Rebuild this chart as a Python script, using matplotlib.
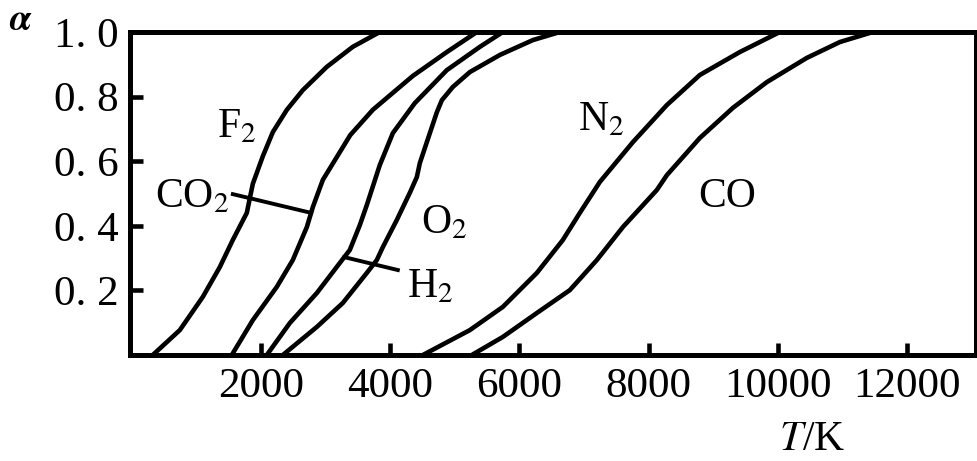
import numpy as np
import matplotlib
matplotlib.use("Agg")
import matplotlib.pyplot as plt

plt.rcParams['font.family'] = ['Liberation Serif', 'DejaVu Serif']
plt.rcParams['mathtext.fontset'] = 'stix'

# ---- data ----
f2_T = [332, 750, 1106, 1368, 1569, 1786, 1879, 2033, 2188, 2405, 2652, 3022, 3424, 3842]
f2_a = [0.0, 0.077, 0.180, 0.272, 0.356, 0.440, 0.530, 0.615, 0.690, 0.759, 0.820, 0.892, 0.954, 1.0]

co2_T = [1554, 1879, 2250, 2497, 2714, 2807, 2961, 3178, 3386, 3734, 4152, 4353, 4879, 5343]
co2_a = [0.0, 0.108, 0.211, 0.294, 0.396, 0.458, 0.542, 0.613, 0.681, 0.759, 0.830, 0.864, 0.938, 1.0]

h2_T = [2095, 2451, 2869, 3224, 3378, 3533, 3641, 3842, 4044, 4384, 4879, 5389, 5745]
h2_a = [0.0, 0.099, 0.192, 0.285, 0.325, 0.402, 0.464, 0.588, 0.687, 0.780, 0.882, 0.954, 1.0]

o2_T = [2343, 2869, 3270, 3641, 3796, 3889, 4105, 4306, 4415, 4461, 4616, 4725, 4802, 4972, 5235, 5699, 6209, 6627]
o2_a = [0.0, 0.087, 0.161, 0.254, 0.294, 0.334, 0.418, 0.502, 0.551, 0.594, 0.687, 0.752, 0.789, 0.830, 0.876, 0.929, 0.975, 1.0]

n2_T = [4508, 5234, 5745, 6270, 6672, 6935, 7245, 7755, 8281, 8791, 9409, 10028]
n2_a = [0.0, 0.077, 0.149, 0.254, 0.356, 0.440, 0.536, 0.659, 0.774, 0.867, 0.938, 1.0]

co_T = [5265, 5745, 6270, 6781, 7198, 7600, 8126, 8281, 8791, 9301, 9827, 10446, 10956, 11466]
co_a = [0.0, 0.056, 0.130, 0.201, 0.294, 0.396, 0.511, 0.557, 0.672, 0.765, 0.845, 0.920, 0.969, 1.0]

x_ticks = [2000, 4000, 6000, 8000, 10000, 12000]
x_ticklabels = ['2000', '4000', '6000', '8000', '10000', '12000']
y_ticks = [0.2, 0.4, 0.6, 0.8, 1.0]
y_ticklabels = ['0. 2', '0. 4', '0. 6', '0. 8', '1. 0']

# curve labels: (text, T, alpha) baseline-left positions
labels = [
    (r'F$_{2}$', 1322, 0.675),
    (r'CO$_{2}$', 363, 0.458),
    (r'O$_{2}$', 4477, 0.378),
    (r'H$_{2}$', 4260, 0.180),
    (r'N$_{2}$', 6903, 0.697),
    ('CO', 8760, 0.458),
]
# leader lines: start point and alpha level where it meets the curve
co2_leader = (1570, 0.498, 0.440)
h2_leader = (4121, 0.263, 0.303)

# ---- figure ----
fig = plt.figure(figsize=(9.78, 4.61), dpi=100)
ax = fig.add_axes([130/978, 1 - 355/461, 846/978, 323/461])

for T, a in [(f2_T, f2_a), (co2_T, co2_a), (h2_T, h2_a), (o2_T, o2_a), (n2_T, n2_a), (co_T, co_a)]:
    ax.plot(T, a, color='black', lw=3.3, solid_capstyle='round', solid_joinstyle='round', clip_on=True)

# leader lines
x0, y0, y1 = co2_leader
ax.plot([x0, np.interp(y1, co2_a, co2_T)], [y0, y1], color='black', lw=2.8)
x0, y0, y1 = h2_leader
ax.plot([x0, np.interp(y1, h2_a, h2_T)], [y0, y1], color='black', lw=2.8)

for txt, x, y in labels:
    ax.text(x, y, txt, fontsize=30, ha='left', va='baseline')

ax.set_xlim(-20, 13060)
ax.set_ylim(0, 1.0)
ax.set_xticks(x_ticks)
ax.set_xticklabels(x_ticklabels)
ax.set_yticks(y_ticks)
ax.set_yticklabels(y_ticklabels)
ax.tick_params(axis='both', direction='in', width=3.3, labelsize=31, color='black')
ax.tick_params(axis='y', length=9.5, pad=8)
ax.tick_params(axis='x', length=9, pad=9)
for s in ax.spines.values():
    s.set_linewidth(3.6)

fig.text(21/978, 1 - 21/461, r'$\boldsymbol{\alpha}$', fontsize=27, ha='center', va='center')
fig.text(812/978, 1 - 450/461, r'$T$/K', fontsize=30, ha='center', va='baseline')

fig.savefig('out.png', dpi=100)
